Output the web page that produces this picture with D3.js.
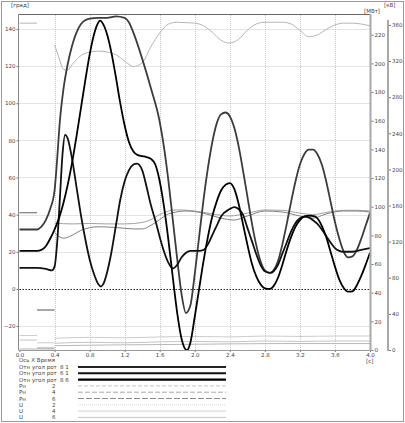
<!DOCTYPE html>
<html>
<head>
<meta charset="utf-8">
<script src="https://cdn.jsdelivr.net/npm/d3@7"></script>
<style>
body { margin: 0; background: #fff; }
svg text { font-family: "DejaVu Sans", sans-serif; font-size: 5.5px; fill: #444; }
</style>
</head>
<body>
<div id="chart"></div>
<script>
/* data */
var timeTicks = [0, 0.4, 0.8, 1.2, 1.6, 2.0, 2.4, 2.8, 3.2, 3.6, 4.0];
var angleTicks = [-20, 0, 20, 40, 60, 80, 100, 120, 140];
var powerTicks = [0, 20, 40, 60, 80, 100, 120, 140, 160, 180, 200, 220];
var voltTicks = [0, 40, 80, 120, 160, 200, 240, 280, 320, 360];

// relative rotor angles, [t, град]
var ang81 = [[0,32],[0.2,32],[0.25,33.5],[0.3,37],[0.35,43],[0.4,53],[0.43,70],[0.46,90],[0.5,107],[0.55,121],[0.6,131],[0.65,138],[0.7,142.5],[0.8,145.5],[0.9,146],[1.0,146],[1.1,146.8],[1.2,146],[1.25,143.5],[1.3,138],[1.4,124],[1.5,108],[1.6,90],[1.65,76],[1.7,58],[1.75,37],[1.8,16],[1.85,-3],[1.9,-13],[1.95,-9],[2.0,8],[2.05,28],[2.1,48],[2.15,65],[2.2,79],[2.25,89],[2.3,94],[2.35,95],[2.4,93],[2.45,87],[2.5,77],[2.55,64],[2.6,50],[2.65,36],[2.7,24],[2.75,15],[2.8,10],[2.86,8.6],[2.9,10],[2.95,15],[3.0,24],[3.05,35],[3.1,47],[3.15,58],[3.2,67],[3.25,72.5],[3.3,75],[3.35,75],[3.4,72.5],[3.45,67],[3.5,58],[3.55,47],[3.6,36],[3.65,27],[3.7,20],[3.75,17],[3.8,17.5],[3.85,21],[3.9,27],[3.95,34],[4.0,41]];
var ang61 = [[0,20.5],[0.2,20.5],[0.25,21],[0.3,23],[0.35,27],[0.4,32],[0.45,38],[0.5,46],[0.55,56],[0.6,68],[0.65,82],[0.7,97],[0.75,112],[0.8,126],[0.85,137],[0.9,143.5],[0.92,144.5],[0.95,143],[1.0,137],[1.05,127],[1.1,114],[1.15,100],[1.2,88],[1.25,79],[1.3,74],[1.35,72],[1.4,71.5],[1.45,71],[1.5,70],[1.55,67],[1.6,58],[1.65,44],[1.7,26],[1.75,6],[1.8,-13],[1.85,-27],[1.91,-33],[1.95,-29],[2.0,-15],[2.05,0],[2.1,15],[2.15,28],[2.2,39],[2.25,47],[2.3,53],[2.35,56],[2.4,57],[2.45,54],[2.5,46],[2.55,35],[2.6,24],[2.65,14],[2.7,7],[2.75,2.5],[2.8,0.3],[2.86,0],[2.9,1.5],[2.95,6],[3.0,13],[3.05,21],[3.1,28],[3.15,33.5],[3.2,37],[3.25,39],[3.3,39.5],[3.37,39],[3.45,34],[3.5,28],[3.55,20],[3.6,12],[3.65,5],[3.7,0.5],[3.75,-1.5],[3.8,-1.3],[3.85,2],[3.9,7],[3.95,13],[4.0,19.5]];
var ang86 = [[0,11.3],[0.2,11.3],[0.3,10.8],[0.37,10],[0.4,12],[0.43,25],[0.46,48],[0.49,72],[0.52,83],[0.55,81],[0.6,70],[0.65,55],[0.7,40],[0.75,27],[0.8,16],[0.85,8],[0.9,2.5],[0.93,1.3],[0.96,3],[1.0,9],[1.05,20],[1.1,34],[1.15,48],[1.2,58],[1.25,64],[1.3,67],[1.34,67.5],[1.4,64],[1.45,55],[1.5,45],[1.55,37],[1.6,28],[1.65,20],[1.7,14],[1.75,11],[1.8,13],[1.85,17],[1.9,19.5],[1.95,20.5],[2.0,20.5],[2.05,20.5],[2.1,21],[2.15,24],[2.2,29],[2.25,34],[2.3,39],[2.4,43],[2.45,44],[2.5,43],[2.55,40],[2.6,33],[2.65,26],[2.7,19],[2.75,13],[2.8,9.5],[2.86,8.6],[2.9,9.5],[2.95,13],[3.0,19],[3.05,25],[3.1,31],[3.15,35.5],[3.2,38],[3.26,39],[3.3,38.5],[3.35,37],[3.4,35],[3.45,32],[3.5,28.5],[3.55,25],[3.6,22],[3.65,20.5],[3.7,20],[3.8,20],[3.9,21],[4.0,22]];

// Рн [МВт] and U [кВ]: value before the fault (0-0.2 s), during it (0.2-0.4 s), then the curve
var pnPre = [95.8, 95.8, 0.7];
var pnFault = [27.9, 27.9, 0.7];
var uPre = [362, 16, 11];
var uFault = [2, 8, 2.5];
var pn2Post = [[0.4,88.5],[0.6,88],[0.8,88.3],[1.0,88],[1.2,88],[1.4,89],[1.5,91],[1.6,94.5],[1.7,97],[1.8,97.8],[2.0,97],[2.2,95],[2.4,93.5],[2.6,95.5],[2.8,97.7],[3.0,97.5],[3.2,95.5],[3.35,94.5],[3.5,96],[3.7,97.5],[3.85,97.5],[4.0,97]];
var pn4Post = [[0.4,82],[0.5,78],[0.6,80],[0.7,83.5],[0.9,86],[1.1,85.5],[1.3,84.5],[1.4,84.5],[1.5,87],[1.6,91],[1.7,95],[1.9,97],[2.1,95.5],[2.3,92],[2.45,90.7],[2.6,93.5],[2.8,97],[3.0,96.3],[3.2,93.5],[3.35,92],[3.5,95],[3.7,97],[3.85,97],[4.0,96.3]];
var pn6Post = [[0.4,3],[1.0,3.5],[2.0,4],[3.0,4.5],[4.0,4.5]];
var u2Post = [[0.4,338],[0.45,324],[0.5,311],[0.55,310],[0.6,316],[0.7,326],[0.8,330],[0.9,331],[1.0,330],[1.1,327],[1.2,320],[1.3,314],[1.4,318],[1.5,336],[1.6,351],[1.7,361],[1.8,363],[1.9,362.5],[2.0,362],[2.1,359],[2.2,352],[2.3,343],[2.4,340],[2.5,344],[2.6,354],[2.7,361],[2.8,363],[2.9,363],[3.0,363],[3.1,361],[3.2,354],[3.3,347],[3.4,349],[3.5,355],[3.6,360],[3.7,362],[3.8,362],[3.9,361],[4.0,359]];
var u4Post = [[0.4,13],[0.8,14],[1.2,13.5],[1.6,14.5],[2.0,15],[2.4,14.5],[2.8,15.5],[3.2,15],[3.6,15.5],[4.0,15.5]];
var u6Post = [[0.4,7.5],[0.8,8.5],[1.2,8],[1.6,9],[2.0,9.5],[2.4,9],[2.8,10],[3.2,9.5],[3.6,10],[4.0,10]];

var legendNames = ['Отн угол рот', 'Отн угол рот', 'Отн угол рот', 'Рн', 'Рн', 'Рн', 'U', 'U', 'U'];
var legendIds = ['8 1', '6 1', '8 6', '2', '4', '6', '2', '4', '6'];

/* setup */
var plotLeft = 19.5, plotRight = 370, outerAxis = 388, plotTop = 15, plotBottom = 350;

var x = d3.scaleLinear().domain([0, 4]).range([plotLeft, plotRight]);
var yA = d3.scaleLinear().domain([-32.9, 147.5]).range([plotBottom, plotTop]);
var yP = d3.scaleLinear().domain([0, 233.8]).range([plotBottom, plotTop]);
var yU = d3.scaleLinear().domain([0, 371]).range([plotBottom, plotTop]);

var svg = d3.select('#chart').append('svg')
    .attr('width', 405)
    .attr('height', 423);

svg.append('rect')
    .attr('x', 1.5).attr('y', 1.5).attr('width', 402).attr('height', 420)
    .attr('fill', 'none').attr('stroke', '#9a9a9a');

svg.append('clipPath').attr('id', 'plot')
    .append('rect').attr('x', plotLeft - 1).attr('y', plotTop).attr('width', plotRight - plotLeft + 1).attr('height', plotBottom - plotTop + 1);

/* grid */
svg.selectAll('.vgrid')
    .data(timeTicks.slice(1, -1))
    .enter().append('line')
    .attr('x1', function (d) { return Math.round(x(d)) + 0.5; })
    .attr('x2', function (d) { return Math.round(x(d)) + 0.5; })
    .attr('y1', plotTop).attr('y2', plotBottom)
    .attr('stroke', '#c8c8c8').attr('stroke-dasharray', '1,1');

svg.selectAll('.hgrid')
    .data(angleTicks)
    .enter().append('line')
    .attr('x1', plotLeft).attr('x2', plotRight)
    .attr('y1', function (d) { return Math.round(yA(d)) + 0.5; })
    .attr('y2', function (d) { return Math.round(yA(d)) + 0.5; })
    .attr('stroke', function (d) { return d === 0 ? '#222' : '#c8c8c8'; })
    .attr('stroke-dasharray', function (d) { return d === 0 ? '1.5,1.5' : '1,1'; });

/* curves */
var plot = svg.append('g').attr('clip-path', 'url(#plot)');

function lineFor(scale) {
    return d3.line()
        .x(function (d) { return x(d[0]); })
        .y(function (d) { return scale(d[1]); })
        .curve(d3.curveMonotoneX);
}

var grays = [
    { post: pn2Post, pre: pnPre[0], fault: pnFault[0], scale: yP, color: '#a0a0a0' },
    { post: pn4Post, pre: pnPre[1], fault: pnFault[1], scale: yP, color: '#808080' },
    { post: pn6Post, pre: pnPre[2], fault: pnFault[2], scale: yP, color: '#b8b8b8' },
    { post: u2Post, pre: uPre[0], fault: uFault[0], scale: yU, color: '#b4b4b4' },
    { post: u4Post, pre: uPre[1], fault: uFault[1], scale: yU, color: '#cccccc' },
    { post: u6Post, pre: uPre[2], fault: uFault[2], scale: yU, color: '#c4c4c4' }
];

grays.forEach(function (s) {
    var l = lineFor(s.scale);
    [[[0, s.pre], [0.2, s.pre]], [[0.2, s.fault], [0.4, s.fault]], s.post].forEach(function (seg) {
        plot.append('path')
            .attr('d', l(seg))
            .attr('fill', 'none')
            .attr('stroke', s.color)
            .attr('stroke-width', 1);
    });
});

var blacks = [
    { data: ang81, color: '#3c3c3c' },
    { data: ang86, color: '#111' },
    { data: ang61, color: '#000' }
];

blacks.forEach(function (s) {
    plot.append('path')
        .attr('d', lineFor(yA)(s.data))
        .attr('fill', 'none')
        .attr('stroke', s.color)
        .attr('stroke-width', 1.8);
});

/* frame and axes */
svg.append('line').attr('x1', plotLeft - 1).attr('x2', plotRight).attr('y1', plotTop - 0.5).attr('y2', plotTop - 0.5)
    .attr('stroke', '#666');
svg.append('line').attr('x1', plotLeft - 1).attr('x2', plotLeft - 1).attr('y1', plotTop - 0.5).attr('y2', plotBottom)
    .attr('stroke', '#888');

function styleAxis(g) {
    g.selectAll('.domain').remove();
    g.selectAll('.tick line').attr('stroke', '#777');
    g.selectAll('.tick text').attr('fill', '#444').style('font-size', '5.5px')
        .style('font-family', '"DejaVu Sans", sans-serif');
}

svg.append('g')
    .attr('transform', 'translate(' + (plotLeft - 1) + ',0)')
    .call(d3.axisLeft(yA).tickValues(angleTicks).tickSize(2).tickPadding(1))
    .call(styleAxis);

svg.append('g')
    .attr('transform', 'translate(0,' + plotBottom + ')')
    .call(d3.axisBottom(x).tickValues(timeTicks).tickFormat(d3.format('.1f')).tickSize(2).tickPadding(1))
    .call(styleAxis);

svg.append('line').attr('x1', plotLeft - 1).attr('x2', plotRight).attr('y1', plotBottom + 0.5).attr('y2', plotBottom + 0.5)
    .attr('stroke', '#999');

svg.append('line').attr('x1', plotRight + 0.5).attr('x2', plotRight + 0.5).attr('y1', plotTop - 1).attr('y2', plotBottom + 1)
    .attr('stroke', '#a8a8a8').attr('stroke-width', 2);
svg.append('g')
    .attr('transform', 'translate(' + (plotRight + 1.5) + ',0)')
    .call(d3.axisRight(yP).tickValues(powerTicks).tickSize(2).tickPadding(1))
    .call(styleAxis);

svg.append('line').attr('x1', outerAxis).attr('x2', outerAxis).attr('y1', 20).attr('y2', plotBottom + 1)
    .attr('stroke', '#a8a8a8').attr('stroke-width', 2);
svg.append('g')
    .attr('transform', 'translate(' + (outerAxis + 1) + ',0)')
    .call(d3.axisRight(yU).tickValues(voltTicks).tickSize(2).tickPadding(1))
    .call(styleAxis);

/* units */
svg.append('text').attr('x', 11).attr('y', 7).text('[град]');
svg.append('text').attr('x', 364).attr('y', 13).text('[МВт]');
svg.append('text').attr('x', 384).attr('y', 7).text('[кВ]');
svg.append('text').attr('x', 366).attr('y', 363).text('[с]');

/* legend */
var rowY = function (i) { return 367 + i * 6.3; };
svg.append('text').attr('x', 19).attr('y', 362.3).text('Ось X  Время');

var styles = [
    { color: '#222', w: 2, dash: null },
    { color: '#111', w: 2, dash: null },
    { color: '#000', w: 2.4, dash: null },
    { color: '#c4c4c4', w: 1, dash: '4,2' },
    { color: '#aaaaaa', w: 1, dash: '5,2' },
    { color: '#8c8c8c', w: 1, dash: '6,2' },
    { color: '#d8d8d8', w: 1, dash: '1,1' },
    { color: '#cfcfcf', w: 1, dash: null },
    { color: '#c8c8c8', w: 1, dash: null }
];

var rows = svg.selectAll('.legend')
    .data(legendNames)
    .enter().append('g')
    .attr('transform', function (d, i) { return 'translate(0,' + rowY(i) + ')'; });

rows.append('text').attr('x', 19).attr('y', 2).text(function (d) { return d; });
rows.append('text')
    .attr('x', function (d, i) { return i < 3 ? 60 : 52; })
    .attr('y', 2)
    .text(function (d, i) { return legendIds[i]; });
rows.append('line')
    .attr('x1', 78).attr('x2', 226).attr('y1', 0).attr('y2', 0)
    .attr('stroke', function (d, i) { return styles[i].color; })
    .attr('stroke-width', function (d, i) { return styles[i].w; })
    .attr('stroke-dasharray', function (d, i) { return styles[i].dash; });
</script>
</body>
</html>
